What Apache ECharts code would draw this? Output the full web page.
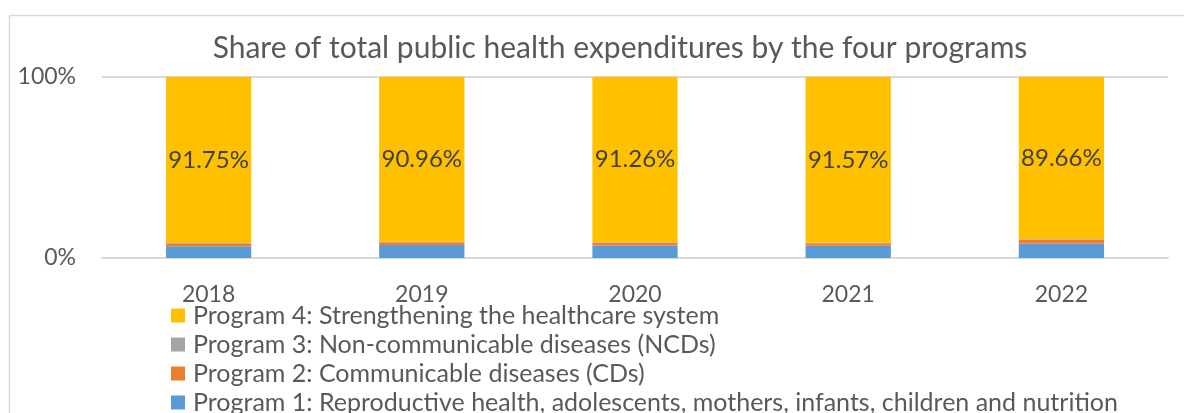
<!DOCTYPE html>
<html>
<head>
<meta charset="utf-8">
<script src="https://cdn.jsdelivr.net/npm/echarts@6/dist/echarts.min.js"></script>
<style>
  html, body { margin: 0; padding: 0; background: #fff; }
  #chart { width: 1184px; height: 413px; }
</style>
</head>
<body>
<div id="chart"></div>
<script>
// Share (%) of total public health expenditures, by program and year
const years = ['2018', '2019', '2020', '2021', '2022'];
const program1 = [6.5, 7.2, 6.9, 6.7, 8.0];
const program2 = [1.4, 1.5, 1.5, 1.4, 1.9];
const program3 = [0.35, 0.34, 0.34, 0.33, 0.44];
const program4 = [91.75, 90.96, 91.26, 91.57, 89.66];
const yTicks = [0, 100];

const names = [
  'Program 1: Reproductive health, adolescents, mothers, infants, children and nutrition',
  'Program 2: Communicable diseases (CDs)',
  'Program 3: Non-communicable diseases (NCDs)',
  'Program 4: Strengthening the healthcare system'
];
const colors = ['#5b9bd5', '#ed7d31', '#a5a5a5', '#ffc000'];
const values = [program1, program2, program3, program4];
const FONT = 'Lato';

const series = values.map((v, i) => ({
  name: names[i],
  type: 'bar',
  stack: 'total',
  barWidth: '40%',
  data: v,
  itemStyle: { color: colors[i] },
  label: i === 3 ? {
    show: true,
    position: 'inside',
    formatter: p => p.value.toFixed(2) + '%',
    color: '#404040',
    fontFamily: FONT,
    fontSize: 24
  } : { show: false }
}));

// One legend row per program, listed from Program 4 down to Program 1
const legendRows = [3, 2, 1, 0].map((idx, row) => ({
  orient: 'vertical',
  left: 171,
  top: 303 + row * 29,
  padding: 0,
  itemWidth: 14,
  itemHeight: 14,
  itemGap: 0,
  icon: 'rect',
  data: [names[idx]],
  textStyle: { fontFamily: FONT, fontSize: 25, color: '#595959', padding: [0, 0, 0, 3] }
}));

const chart = echarts.init(document.getElementById('chart'));
chart.setOption({
  animation: false,
  textStyle: { fontFamily: FONT },
  graphic: [{
    type: 'rect',
    shape: { x: 9.5, y: 15.5, width: 1200, height: 420 },
    style: { fill: 'none', stroke: '#d9d9d9', lineWidth: 1.5 },
    silent: true
  }],
  title: {
    text: 'Share of total public health expenditures by the four programs',
    left: 615,
    textAlign: 'center',
    top: 28,
    textStyle: { fontFamily: FONT, fontSize: 30, fontWeight: 'normal', color: '#595959' }
  },
  legend: legendRows,
  grid: { left: 102, right: 16, top: 77, bottom: 155, containLabel: false },
  xAxis: {
    type: 'category',
    data: years,
    axisLine: { lineStyle: { color: '#d9d9d9', width: 2 } },
    axisTick: { show: false },
    axisLabel: { color: '#595959', fontFamily: FONT, fontSize: 23, margin: 25 }
  },
  yAxis: {
    type: 'value',
    min: yTicks[0],
    max: yTicks[1],
    interval: yTicks[1] - yTicks[0],
    axisLine: { show: false },
    axisTick: { show: false },
    splitLine: { lineStyle: { color: '#d9d9d9', width: 2 } },
    axisLabel: { formatter: '{value}%', color: '#595959', fontFamily: FONT, fontSize: 23, margin: 26 }
  },
  series: series
});
</script>
</body>
</html>
